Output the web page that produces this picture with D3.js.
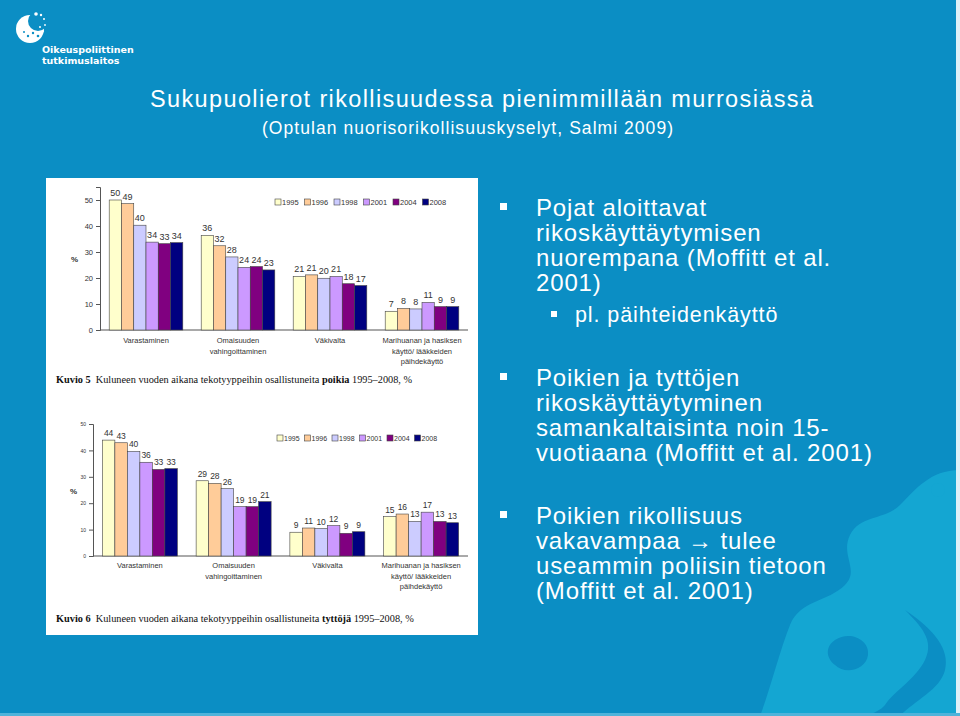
<!DOCTYPE html>
<html><head><meta charset="utf-8">
<script src="https://cdn.jsdelivr.net/npm/d3@7"></script>
<style>
html,body{margin:0;padding:0;background:#0b8ec4;}
svg{display:block;}
</style></head>
<body>
<svg id="s" width="960" height="716"></svg>
<script>
// ---------- DATA ----------
const categories = ["Varastaminen", "Omaisuuden|vahingoittaminen", "Väkivalta", "Marihuanan ja hasiksen|käyttö/ lääkkeiden|päihdekäyttö"];
const years = ["1995", "1996", "1998", "2001", "2004", "2008"];
const yearColors = ["#ffffcc", "#ffcc99", "#ccccff", "#cc99ff", "#800080", "#000080"];
const boysValues = [
  [50.0, 48.6, 40.3, 33.8, 33.2, 33.6],
  [36.4, 32.4, 28.1, 24.1, 24.4, 23.1],
  [20.6, 21.2, 19.9, 20.6, 17.8, 17.1],
  [7.2, 8.3, 8.1, 10.6, 9.0, 9.0]
];
const girlsValues = [
  [43.9, 42.9, 39.6, 35.5, 32.8, 33.1],
  [28.5, 27.5, 25.5, 18.7, 18.7, 20.6],
  [9.0, 10.6, 10.4, 11.5, 8.6, 9.2],
  [14.9, 15.9, 13.1, 16.6, 13.1, 12.6]
];
const yTicks = [0, 10, 20, 30, 40, 50];
const titleText = "Sukupuolierot rikollisuudessa pienimmillään murrosiässä";
const subtitleText = "(Optulan nuorisorikollisuuskyselyt, Salmi 2009)";
const caption1 = ["Kuvio 5", "  Kuluneen vuoden aikana tekotyyppeihin osallistuneita ", "poikia", " 1995–2008, %"];
const caption2 = ["Kuvio 6", "  Kuluneen vuoden aikana tekotyyppeihin osallistuneita ", "tyttöjä", " 1995–2008, %"];
const bullets = [
  {lines: ["Pojat aloittavat", "rikoskäyttäytymisen", "nuorempana (Moffitt et al.", "2001)"]},
  {sub: "pl. päihteidenkäyttö"},
  {lines: ["Poikien ja tyttöjen", "rikoskäyttäytyminen", "samankaltaisinta noin 15-", "vuotiaana (Moffitt et al. 2001)"]},
  {lines: ["Poikien rikollisuus", "vakavampaa → tulee", "useammin poliisin tietoon", "(Moffitt et al. 2001)"]}
];

const svg = d3.select("#s");
const BG = "#0b8ec4", LIGHT = "#14a6d2";
svg.append("rect").attr("width", 960).attr("height", 716).attr("fill", BG);

// decorative lighter shapes bottom-right
const deco = svg.append("g");
deco.append("path").attr("fill", LIGHT)
  .attr("d", "M960,470 C930,470 915,490 900,505 C885,520 860,515 850,535 C840,555 860,570 845,585 C828,602 800,600 790,625 C780,650 770,690 760,716 L960,716 Z");
deco.append("circle").attr("cx", 938).attr("cy", 490).attr("r", 7).attr("fill", LIGHT);
deco.append("path").attr("fill", BG)
  .attr("d", "M905,610 C920,625 935,640 925,660 C915,680 895,690 885,705 C875,716 860,716 860,716 L900,716 C915,700 940,690 945,670 C950,650 935,630 905,610 Z");
deco.append("path").attr("fill", BG)
  .attr("d", "M835,640 C850,630 870,640 868,655 C866,670 845,675 835,665 C825,657 826,646 835,640 Z");
deco.append("rect").attr("x", 956).attr("y", 0).attr("width", 4).attr("height", 716).attr("fill", "#dff1f8");
deco.append("rect").attr("x", 0).attr("y", 713).attr("width", 960).attr("height", 3).attr("fill", "#4fb3da");

// logo
const logo = svg.append("g");
logo.append("circle").attr("cx", 30).attr("cy", 29).attr("r", 14).attr("fill", "#fff");
logo.append("circle").attr("cx", 38).attr("cy", 21).attr("r", 10).attr("fill", BG);
[[36,14,1.8],[41,15,1.2],[44,19,1],[45,25,0.9],[43,31,1.1],[38,36,1.3],[33,33,1.2],[28,36,1.2],[24,32,1.0],[40,27,1]].forEach(d => {
  logo.append("circle").attr("cx", d[0]).attr("cy", d[1]).attr("r", d[2]).attr("fill", d[0] > 39 || d[1] < 20 ? "#fff" : BG);
});
logo.append("text").attr("x", 42).attr("y", 53).attr("fill", "#fff")
  .style("font", "bold 9.5px 'DejaVu Sans', sans-serif").text("Oikeuspoliittinen");
logo.append("text").attr("x", 42).attr("y", 64).attr("fill", "#fff")
  .style("font", "bold 9.5px 'DejaVu Sans', sans-serif").text("tutkimuslaitos");

// title
svg.append("text").attr("x", 150).attr("y", 107).attr("fill", "#fff")
  .attr("textLength", 663).attr("lengthAdjust", "spacing")
  .style("font", "23.5px 'Liberation Sans', Arial, sans-serif").text(titleText);
svg.append("text").attr("x", 262).attr("y", 134).attr("fill", "#fff")
  .attr("textLength", 411).attr("lengthAdjust", "spacing")
  .style("font", "17.5px 'Liberation Sans', Arial, sans-serif").text(subtitleText);

// bullets
const bulletFont = "24px 'Liberation Sans', Arial, sans-serif";
const tb = svg.append("g").attr("fill", "#fff");
const blockY = [216, null, 386, 524];
bullets.forEach((b, i) => {
  if (b.lines) {
    tb.append("rect").attr("x", 500).attr("y", blockY[i] - 13).attr("width", 7).attr("height", 7);
    b.lines.forEach((l, j) => {
      tb.append("text").attr("x", 536).attr("y", blockY[i] + j * 25)
        .style("font", bulletFont).style("letter-spacing", "0.85px").text(l);
    });
  } else {
    tb.append("rect").attr("x", 551).attr("y", 311).attr("width", 6).attr("height", 6);
    tb.append("text").attr("x", 575).attr("y", 322)
      .style("font", "21.5px 'Liberation Sans', Arial, sans-serif").style("letter-spacing", "0.9px").text(b.sub);
  }
});

// white image box
svg.append("rect").attr("x", 46).attr("y", 178).attr("width", 432).attr("height", 457).attr("fill", "#fff");

function drawChart(cfg) {
  const g = svg.append("g");
  const x = d3.scaleBand().domain(categories).range([cfg.x0, cfg.x1]).paddingInner(0.2).paddingOuter(0.1);
  const xs = d3.scaleBand().domain(years).range([0, x.bandwidth()]);
  const y = d3.scaleLinear().domain([0, cfg.ymax]).range([cfg.yBottom, cfg.yTop]);
  const axisColor = "#555";
  const ya = g.append("g").attr("transform", `translate(${cfg.x0},0)`)
    .call(d3.axisLeft(y).tickValues(yTicks).tickSize(4).tickPadding(3));
  ya.select(".domain").attr("stroke", axisColor);
  ya.selectAll(".tick line").attr("stroke", axisColor);
  ya.selectAll(".tick text").attr("fill", "#333").style("font", cfg.tickFont);
  g.append("line").attr("x1", cfg.x0).attr("x2", cfg.x1).attr("y1", y(0)).attr("y2", y(0)).attr("stroke", axisColor);
  cfg.values.forEach((row, ci) => {
    const cat = categories[ci];
    const gg = g.append("g").attr("transform", `translate(${x(cat)},0)`);
    gg.selectAll("rect").data(row).join("rect")
      .attr("x", (d, i) => xs(years[i]))
      .attr("y", d => y(d))
      .attr("width", xs.bandwidth())
      .attr("height", d => y(0) - y(d))
      .attr("fill", (d, i) => yearColors[i])
      .attr("stroke", "#444").attr("stroke-width", 0.6);
    gg.selectAll("text").data(row).join("text")
      .attr("x", (d, i) => xs(years[i]) + xs.bandwidth() / 2)
      .attr("y", d => y(d) - 4)
      .attr("text-anchor", "middle").attr("fill", "#333")
      .style("font", cfg.valueFont).text(d => Math.round(d));
    cat.split("|").forEach((t, k) => {
      g.append("text").attr("x", x(cat) + x.bandwidth() / 2).attr("y", y(0) + cfg.catDy + k * cfg.catLh)
        .attr("text-anchor", "middle").attr("fill", "#333").style("font", cfg.catFont).text(t);
    });
  });
  g.append("text").attr("x", cfg.pctX).attr("y", cfg.pctY).attr("fill", "#333")
    .style("font", "bold 8px 'Liberation Sans', Arial, sans-serif").text("%");
  const lg = g.append("g").attr("transform", `translate(${cfg.legX},${cfg.legY})`);
  years.forEach((yr, i) => {
    const it = lg.append("g").attr("transform", `translate(${i * cfg.legStep},0)`);
    it.append("rect").attr("x", 0).attr("y", -cfg.legSq + 1).attr("width", cfg.legSq).attr("height", cfg.legSq)
      .attr("fill", yearColors[i]).attr("stroke", "#444").attr("stroke-width", 0.6);
    it.append("text").attr("x", cfg.legSq + 1).attr("y", 1).attr("fill", "#333")
      .style("font", cfg.legFont).text(yr);
  });
  const cap = g.append("text").attr("x", 56).attr("y", cfg.capY).attr("fill", "#111")
    .style("font", "10.3px 'Liberation Serif', 'Times New Roman', serif");
  cfg.caption.forEach((t, i) => {
    cap.append("tspan").attr("font-weight", i % 2 === 0 ? "bold" : "normal").text(t).attr("xml:space", "preserve");
  });
}

drawChart({
  values: boysValues, x0: 100, x1: 468, ymax: 55, yBottom: 330, yTop: 187,
  tickFont: "7.5px 'Liberation Sans', Arial, sans-serif",
  valueFont: "9px 'Liberation Sans', Arial, sans-serif",
  catFont: "7.5px 'Liberation Sans', Arial, sans-serif", catDy: 13, catLh: 10.7,
  pctX: 71, pctY: 262,
  legX: 275, legY: 204, legStep: 29.5, legSq: 6, legFont: "7.5px 'Liberation Sans', Arial, sans-serif",
  caption: caption1, capY: 383
});
drawChart({
  values: girlsValues, x0: 93, x1: 468, ymax: 50, yBottom: 556, yTop: 424,
  tickFont: "5px 'Liberation Sans', Arial, sans-serif",
  valueFont: "8.5px 'Liberation Sans', Arial, sans-serif",
  catFont: "7.5px 'Liberation Sans', Arial, sans-serif", catDy: 12, catLh: 10.7,
  pctX: 70, pctY: 494,
  legX: 277, legY: 440, legStep: 27.5, legSq: 6, legFont: "7px 'Liberation Sans', Arial, sans-serif",
  caption: caption2, capY: 622
});
</script>
</body></html>
